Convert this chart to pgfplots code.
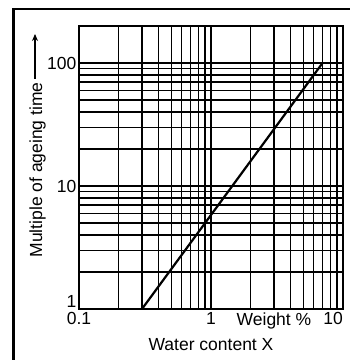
\documentclass[border=0pt]{standalone}
\usepackage{fontspec}
\setmainfont{Liberation Sans}
\usepackage{pgfplots}
\pgfplotsset{compat=1.18}
\usetikzlibrary{arrows.meta}
\begin{document}
\begin{tikzpicture}[font=\fontsize{17.5bp}{21bp}\selectfont]
\useasboundingbox (0,0) rectangle (350bp,360bp);
\draw[line width=2.5bp] (13.5bp,-10bp) -- (13.5bp,351bp) -- (370bp,351bp);
\node[rotate=90, anchor=base] at (42bp,190bp) {Multiple of ageing time};
\draw[line width=1.3bp, -{Stealth[length=7bp,width=6bp]}] (35bp,281bp) -- (35bp,326bp);
\begin{axis}[
  at={(79bp,51bp)}, anchor=south west,
  scale only axis, width=264bp, height=283bp,
  xmode=log, ymode=log,
  xmin=0.1, xmax=10, ymin=1, ymax=200,
  xtick={0.1,1}, xticklabels={0.1,1},
  extra x ticks={10}, extra x tick labels={10},
  extra x tick style={xticklabel style={anchor=north east, inner xsep=0pt}},
  minor xtick={0.2,0.3,0.4,0.5,0.6,0.7,0.8,0.9,2,3,4,5,6,7,8,9},
  ytick={10,100}, yticklabels={10,100},
  extra y ticks={1}, extra y tick labels={1},
  extra y tick style={yticklabel style={anchor=base east, inner ysep=0pt, yshift=1.5bp}},
  minor ytick={2,3,4,5,6,7,8,9,20,30,40,50,60,70,80,90},
  yticklabel style={inner xsep=2.5bp},
  grid=both,
  major grid style={black, line width=1.4bp},
  minor grid style={black, line width=1.4bp},
  major tick length=0pt, minor tick length=0pt,
  axis line style={black, line width=1.5bp},
  clip=false,
]
\addplot[black, line width=2.2bp] coordinates {(0.3,1) (7,100)};
\node[anchor=north] at (axis cs:3,1) {Weight \%};
\node[anchor=base] at (rel axis cs:0.5,0) [yshift=-41bp] {Water content X};
\end{axis}
\end{tikzpicture}
\end{document}
